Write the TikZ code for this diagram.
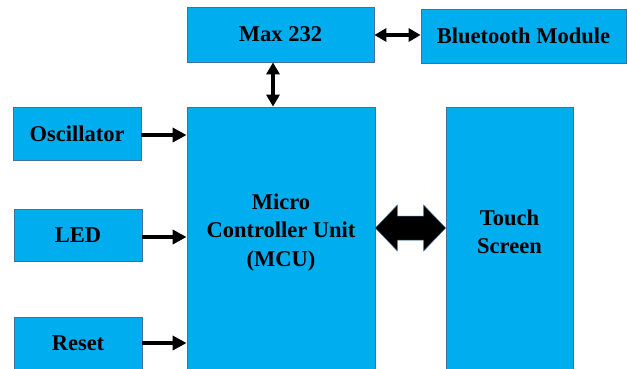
\documentclass[tikz,border=0pt]{standalone}
\usepackage{fontspec}
\setmainfont{Liberation Serif}
\usetikzlibrary{arrows.meta,calc}
\definecolor{boxfill}{HTML}{00AEEF}
\definecolor{boxline}{HTML}{41719C}
\begin{document}
\begin{tikzpicture}[x=1pt,y=-1pt,
  box/.style={draw=boxline,fill=boxfill,line width=0.8pt,inner sep=0pt,
    font=\fontsize{22.5}{28}\selectfont\bfseries,align=center},
  txt/.style={font=\fontsize{22.5}{28.5}\selectfont\bfseries,align=center,inner sep=0pt},
  conn/.style={line width=4pt,-{Triangle[length=14pt,width=14pt]}},
  dconn/.style={line width=3.5pt,{Triangle[length=12pt,width=13pt]}-{Triangle[length=12pt,width=13pt]}}]
\useasboundingbox (0,0) rectangle (627,368);
\begin{scope}
\clip (0,0) rectangle (627,368);
\node[box,minimum width=187,minimum height=55] (max) at (280.5,34.5) {Max 232};
\node[box,minimum width=205,minimum height=54] (bt) at (523.5,36) {Bluetooth Module};
\node[box,minimum width=128,minimum height=53] (osc) at (77,133.5) {Oscillator};
\node[box,minimum width=128,minimum height=52] (led) at (78,235) {LED};
\node[box,minimum width=128,minimum height=53] (rst) at (78,343.5) {Reset};
\node[box,minimum width=188,minimum height=268] (mcu) at (281,241) {};
\node[txt] (mcutxt) at (281,232.5) {Micro\\Controller Unit\\(MCU)};
\node[box,minimum width=127,minimum height=268] (touch) at (509.5,241) {};
\node[txt] (touchtxt) at (509.5,232) {Touch\\Screen};
\end{scope}
% connectors
\draw[dconn] (max.east |- 0,35) -- (bt.west |- 0,35);
\draw[dconn] (max.south -| 273,0) -- (mcu.north -| 273,0);
\draw[conn] (osc.east |- 0,135) -- (mcu.west |- 0,135);
\draw[conn] (led.east |- 0,237) -- (mcu.west |- 0,237);
\draw[conn] (rst.east |- 0,343) -- (mcu.west |- 0,343);
% big block double arrow
\coordinate (L) at (mcu.east |- 0,228);
\coordinate (R) at (touch.west |- 0,228);
\fill[black,draw=boxline,line width=0.5pt]
  (L) -- ++(22,-23) -- ++(0,11) -- ($(R)+(-22,-12)$) -- ++(0,-11) -- (R)
  -- ++(-22,23) -- ++(0,-11) -- ($(L)+(22,12)$) -- ++(0,11) -- cycle;
\end{tikzpicture}
\end{document}
